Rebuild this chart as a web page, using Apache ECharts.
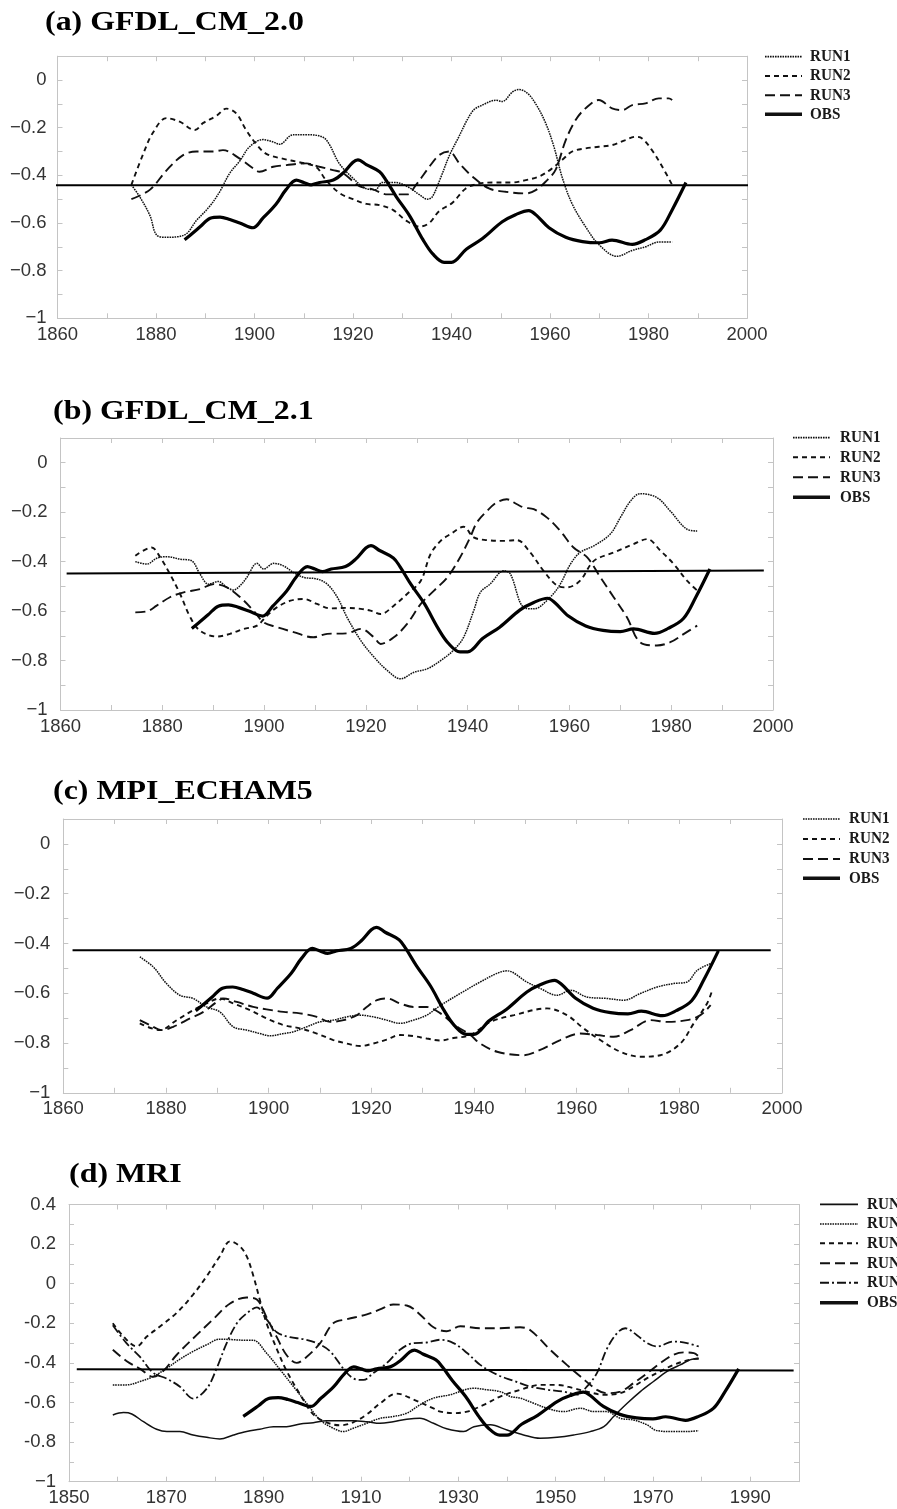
<!DOCTYPE html>
<html><head><meta charset="utf-8">
<script src="https://cdn.jsdelivr.net/npm/echarts@6/dist/echarts.min.js"></script>
<style>html,body{margin:0;padding:0;background:#fff}#c{width:897px;height:1509px}</style>
</head><body><div id="c"></div>
<script>
// ---------------- DATA ----------------
const panelTitles = ['(a) GFDL_CM_2.0', '(b) GFDL_CM_2.1', '(c) MPI_ECHAM5', '(d) MRI'];
const legendABC = ['RUN1', 'RUN2', 'RUN3', 'OBS'];
const legendD = ['RUN1', 'RUN2', 'RUN3', 'RUN4', 'RUN5', 'OBS'];

const xLabelValsABC = [1860, 1880, 1900, 1920, 1940, 1960, 1980, 2000];
const xLabelValsD = [1850, 1870, 1890, 1910, 1930, 1950, 1970, 1990];
const yLabelValsABC = [-1, -0.8, -0.6, -0.4, -0.2, 0];
const yLabelTxtABC = ['\u22121', '\u22120.8', '\u22120.6', '\u22120.4', '\u22120.2', '0'];
const yLabelValsD = [-1, -0.8, -0.6, -0.4, -0.2, 0, 0.2, 0.4];
const yLabelTxtD = ['\u22121', '-0.8', '-0.6', '-0.4', '-0.2', '0', '0.2', '0.4'];

// observed index (same in every panel)
const obs = [[1885.8,-0.67],[1887,-0.65],[1889,-0.615],[1891,-0.58],[1893,-0.575],[1895,-0.585],[1897,-0.60],[1899.7,-0.62],[1901.7,-0.58],[1904.4,-0.52],[1906.4,-0.46],[1908.5,-0.42],[1910,-0.43],[1911.5,-0.44],[1913.2,-0.43],[1916,-0.42],[1918,-0.39],[1920,-0.345],[1921,-0.335],[1922.7,-0.355],[1925.4,-0.385],[1926.7,-0.42],[1928.8,-0.49],[1931.5,-0.57],[1934.2,-0.67],[1936.2,-0.73],[1938.5,-0.765],[1940,-0.765],[1943,-0.71],[1946.3,-0.665],[1950.3,-0.595],[1953,-0.565],[1955.7,-0.548],[1957.1,-0.565],[1959.8,-0.62],[1963.2,-0.66],[1966.6,-0.678],[1970,-0.683],[1972.6,-0.672],[1976.7,-0.69],[1979.4,-0.67],[1982.4,-0.63],[1984.8,-0.545],[1987.6,-0.43]];

// (a) GFDL_CM_2.0
const a_run1 = [[1875,-0.44],[1876.7,-0.49],[1878.8,-0.57],[1880.1,-0.65],[1882.1,-0.66],[1885.8,-0.65],[1888.2,-0.59],[1890.9,-0.53],[1892.9,-0.47],[1895,-0.39],[1897,-0.34],[1899,-0.28],[1901.7,-0.25],[1903.8,-0.26],[1905.1,-0.27],[1907.8,-0.23],[1911.2,-0.23],[1913.9,-0.24],[1915.2,-0.27],[1917.2,-0.35],[1919.9,-0.41],[1922.6,-0.455],[1924.6,-0.46],[1925.9,-0.43],[1928.6,-0.43],[1931.3,-0.45],[1933.4,-0.48],[1935.1,-0.50],[1936.1,-0.49],[1937.8,-0.41],[1939.5,-0.32],[1941.2,-0.25],[1944.3,-0.13],[1946.3,-0.105],[1949,-0.085],[1950.3,-0.09],[1952.4,-0.05],[1953.7,-0.04],[1955.4,-0.055],[1957.1,-0.10],[1959.1,-0.18],[1960.8,-0.28],[1962.5,-0.41],[1964.5,-0.52],[1967.2,-0.615],[1969.9,-0.69],[1973.6,-0.74],[1976.7,-0.715],[1979.4,-0.70],[1982.1,-0.68],[1984.8,-0.68]];
const a_run2 = [[1875,-0.44],[1877.4,-0.31],[1879.4,-0.22],[1882.1,-0.16],[1884.8,-0.175],[1887.9,-0.21],[1889.6,-0.18],[1892.3,-0.15],[1894.3,-0.12],[1896.3,-0.14],[1898.3,-0.21],[1900.4,-0.27],[1902.4,-0.31],[1905.7,-0.33],[1909.1,-0.345],[1912.5,-0.365],[1914.5,-0.42],[1917.3,-0.475],[1920,-0.50],[1922.7,-0.52],[1925.4,-0.525],[1928.1,-0.545],[1930.8,-0.59],[1933.5,-0.615],[1935.5,-0.60],[1937.5,-0.55],[1940.2,-0.515],[1942.9,-0.455],[1945.6,-0.435],[1948.3,-0.43],[1952.4,-0.43],[1955.1,-0.42],[1957.8,-0.405],[1960.5,-0.37],[1962.5,-0.335],[1964.5,-0.30],[1967.2,-0.287],[1969.9,-0.28],[1972.6,-0.273],[1975.3,-0.252],[1977.4,-0.238],[1978.7,-0.245],[1980.7,-0.294],[1982.8,-0.364],[1984.8,-0.44]];
const a_run3 = [[1875,-0.50],[1878.8,-0.46],[1882.1,-0.38],[1885.5,-0.315],[1888.2,-0.30],[1891.6,-0.30],[1893.6,-0.294],[1897,-0.33],[1899.7,-0.37],[1901,-0.385],[1903.8,-0.364],[1906.5,-0.357],[1910.5,-0.35],[1913.2,-0.364],[1915.9,-0.378],[1917.9,-0.39],[1921.3,-0.445],[1924,-0.459],[1927,-0.48],[1931,-0.48],[1932.8,-0.44],[1935.5,-0.364],[1937.5,-0.315],[1939.5,-0.30],[1941.6,-0.35],[1944.3,-0.406],[1947.6,-0.455],[1951,-0.469],[1955.1,-0.476],[1957.1,-0.462],[1959.1,-0.427],[1961.1,-0.378],[1963.2,-0.252],[1965.2,-0.168],[1967.2,-0.119],[1969.9,-0.084],[1972.6,-0.119],[1974.7,-0.126],[1976.7,-0.105],[1979.4,-0.098],[1982.1,-0.077],[1984.1,-0.077],[1984.8,-0.084]];
const a_ref = [[1859.1,-0.442],[2000.2,-0.442]];

// (b) GFDL_CM_2.1
const b_run1 = [[1874.7,-0.40],[1877,-0.41],[1878.9,-0.386],[1880.9,-0.38],[1883.5,-0.39],[1885.8,-0.397],[1887.4,-0.45],[1889.1,-0.491],[1891,-0.48],[1892.7,-0.504],[1894,-0.515],[1895.3,-0.497],[1896.6,-0.464],[1898.6,-0.407],[1899.9,-0.43],[1901.9,-0.407],[1903.8,-0.417],[1905.8,-0.444],[1907.8,-0.464],[1910.4,-0.47],[1912.4,-0.491],[1914.4,-0.544],[1916.3,-0.625],[1919,-0.719],[1921.6,-0.786],[1924.2,-0.84],[1926.8,-0.874],[1929.5,-0.847],[1932.1,-0.833],[1934.7,-0.80],[1937.2,-0.759],[1939.2,-0.706],[1941.2,-0.598],[1942.5,-0.524],[1944.4,-0.491],[1947.1,-0.437],[1948.4,-0.45],[1951,-0.585],[1953,-0.591],[1956.2,-0.544],[1958.2,-0.491],[1960.2,-0.41],[1962.1,-0.363],[1964.8,-0.336],[1968,-0.289],[1970,-0.222],[1972,-0.155],[1973.9,-0.125],[1977.2,-0.141],[1979.8,-0.195],[1983.1,-0.269],[1985.1,-0.276]];
const b_run2 = [[1874.7,-0.376],[1877.9,-0.343],[1879.6,-0.383],[1881.5,-0.45],[1883.5,-0.531],[1885.5,-0.625],[1887.4,-0.679],[1890.7,-0.703],[1893.3,-0.692],[1896,-0.672],[1898.6,-0.659],[1900.6,-0.618],[1902.5,-0.585],[1905.2,-0.558],[1907.8,-0.551],[1910.4,-0.571],[1913,-0.589],[1916.3,-0.587],[1919,-0.591],[1920.9,-0.598],[1922.9,-0.612],[1925.5,-0.578],[1928.1,-0.531],[1930.8,-0.477],[1932.7,-0.37],[1934.7,-0.316],[1936.6,-0.289],[1939.2,-0.259],[1941.2,-0.302],[1943.8,-0.313],[1947.1,-0.316],[1949.7,-0.313],[1952.3,-0.363],[1954.9,-0.437],[1957.6,-0.497],[1959.5,-0.504],[1962.1,-0.477],[1964.8,-0.397],[1968.7,-0.363],[1972.6,-0.329],[1975.3,-0.309],[1977.9,-0.356],[1980.5,-0.41],[1983.1,-0.477],[1985.1,-0.517]];
const b_run3 = [[1874.7,-0.605],[1877,-0.601],[1878.9,-0.578],[1881.5,-0.544],[1884.2,-0.524],[1887.4,-0.511],[1890.1,-0.491],[1892.7,-0.504],[1895.3,-0.544],[1897.9,-0.598],[1899.9,-0.645],[1902.5,-0.665],[1905.8,-0.685],[1909.7,-0.706],[1912.4,-0.692],[1916.3,-0.69],[1919,-0.672],[1921.6,-0.706],[1922.9,-0.733],[1925.5,-0.706],[1928.1,-0.652],[1930.8,-0.571],[1933.4,-0.517],[1936,-0.464],[1938.5,-0.383],[1940.5,-0.302],[1941.8,-0.242],[1943.8,-0.195],[1945.7,-0.161],[1947.7,-0.148],[1949.7,-0.168],[1951,-0.181],[1953,-0.188],[1955.6,-0.222],[1958.2,-0.276],[1960.8,-0.343],[1963.5,-0.383],[1966.1,-0.464],[1968.7,-0.544],[1971.3,-0.625],[1973.9,-0.726],[1977.2,-0.739],[1979.8,-0.726],[1982.5,-0.692],[1985.1,-0.659]];
const b_ref = [[1861.2,-0.448],[1998.2,-0.436]];

// (c) MPI_ECHAM5
const c_run1 = [[1874.9,-0.454],[1877.5,-0.494],[1880.1,-0.561],[1882.7,-0.608],[1885.3,-0.621],[1887.9,-0.655],[1890.5,-0.675],[1893.1,-0.735],[1895.7,-0.748],[1898.3,-0.762],[1900.3,-0.771],[1902.9,-0.762],[1904.8,-0.755],[1907.4,-0.735],[1910,-0.715],[1912.6,-0.708],[1915.2,-0.695],[1917.8,-0.688],[1920.4,-0.695],[1923,-0.708],[1925.6,-0.721],[1928.2,-0.708],[1930.8,-0.688],[1933.4,-0.65],[1937.3,-0.601],[1941.2,-0.555],[1944.5,-0.52],[1946.4,-0.51],[1950.3,-0.555],[1952.9,-0.581],[1956.2,-0.608],[1958.8,-0.588],[1962,-0.615],[1965.9,-0.621],[1969.2,-0.628],[1972.4,-0.601],[1975.7,-0.575],[1978.9,-0.561],[1981.5,-0.555],[1983.5,-0.508],[1986.1,-0.481]];
const c_run2 = [[1874.9,-0.721],[1878.8,-0.748],[1882.1,-0.708],[1885.3,-0.668],[1887.9,-0.641],[1890.5,-0.621],[1893.1,-0.641],[1896.4,-0.668],[1899.6,-0.701],[1902.9,-0.728],[1906.1,-0.741],[1909.4,-0.762],[1912.6,-0.788],[1915.2,-0.802],[1917.8,-0.812],[1920.4,-0.802],[1923,-0.786],[1925.6,-0.768],[1928.2,-0.772],[1930.8,-0.782],[1933.4,-0.79],[1936,-0.78],[1939.3,-0.768],[1943.2,-0.715],[1947.8,-0.688],[1954.2,-0.661],[1958.1,-0.688],[1961.4,-0.742],[1964.6,-0.788],[1968.5,-0.835],[1972.4,-0.855],[1976.3,-0.849],[1980.2,-0.802],[1982.8,-0.721],[1985.4,-0.641],[1986.4,-0.588]];
const c_run3 = [[1874.9,-0.708],[1876.9,-0.728],[1879.2,-0.748],[1881.4,-0.735],[1884.7,-0.701],[1887.3,-0.675],[1889.9,-0.635],[1891.2,-0.621],[1893.8,-0.635],[1897,-0.655],[1899.6,-0.665],[1902.9,-0.675],[1906.1,-0.681],[1909.4,-0.695],[1912,-0.715],[1914.6,-0.708],[1917.2,-0.688],[1919.1,-0.655],[1921.1,-0.628],[1923,-0.621],[1925.6,-0.641],[1928.2,-0.655],[1930.8,-0.655],[1933.4,-0.68],[1936.3,-0.728],[1939.3,-0.768],[1941.2,-0.802],[1944.5,-0.835],[1949.7,-0.849],[1952.9,-0.828],[1956.8,-0.788],[1960.7,-0.762],[1964,-0.768],[1967.2,-0.775],[1970.5,-0.748],[1974.4,-0.708],[1977.6,-0.715],[1981.5,-0.708],[1984.1,-0.688],[1986.1,-0.648]];
const c_ref = [[1861.8,-0.427],[1997.8,-0.427]];

// (d) MRI
const d_run1 = [[1859,-0.663],[1861.2,-0.651],[1862.9,-0.658],[1865.3,-0.697],[1868,-0.735],[1870.1,-0.747],[1872.8,-0.747],[1875.5,-0.764],[1878.3,-0.776],[1881,-0.784],[1883.8,-0.764],[1886.5,-0.747],[1889.2,-0.735],[1892,-0.722],[1894.7,-0.722],[1897.5,-0.708],[1900.2,-0.702],[1902.9,-0.692],[1905.7,-0.692],[1908.4,-0.692],[1911.2,-0.697],[1913.9,-0.705],[1916.6,-0.697],[1919.4,-0.685],[1922.1,-0.68],[1924.9,-0.705],[1927.6,-0.733],[1931.1,-0.747],[1933.2,-0.722],[1936.6,-0.713],[1940,-0.739],[1943.4,-0.764],[1946.8,-0.781],[1950.3,-0.776],[1953.7,-0.764],[1957.1,-0.747],[1959.9,-0.722],[1961.9,-0.671],[1964.7,-0.604],[1967.4,-0.545],[1970.1,-0.494],[1972.9,-0.443],[1975.6,-0.41],[1978.4,-0.38],[1979.4,-0.38]];
const d_run2 = [[1859,-0.511],[1861.8,-0.511],[1864.6,-0.494],[1867.3,-0.469],[1870.1,-0.427],[1872.8,-0.381],[1875.5,-0.342],[1878.3,-0.308],[1881,-0.28],[1883.8,-0.283],[1886.5,-0.286],[1887.9,-0.286],[1890.6,-0.351],[1893.4,-0.435],[1896.1,-0.519],[1898.8,-0.603],[1901.6,-0.688],[1904.3,-0.73],[1906.4,-0.747],[1908.4,-0.73],[1911.2,-0.705],[1913.9,-0.68],[1916.6,-0.671],[1919.4,-0.654],[1922.1,-0.612],[1924.9,-0.578],[1928.3,-0.561],[1933.2,-0.528],[1935.9,-0.536],[1938.6,-0.545],[1940.7,-0.57],[1942.7,-0.578],[1945.5,-0.604],[1948.2,-0.629],[1951.6,-0.646],[1955.1,-0.629],[1957.8,-0.646],[1960.5,-0.646],[1963.3,-0.68],[1966,-0.688],[1968.8,-0.713],[1970.8,-0.742],[1974.2,-0.747],[1977,-0.747],[1979.4,-0.742]];
const d_run3 = [[1859,-0.20],[1861.2,-0.267],[1863.9,-0.317],[1866,-0.267],[1868.7,-0.216],[1872.1,-0.148],[1875.5,-0.055],[1878.3,0.038],[1881,0.139],[1883.1,0.214],[1885.1,0.189],[1886.5,0.139],[1887.9,0.038],[1889.2,-0.08],[1890.6,-0.20],[1892.7,-0.33],[1894.7,-0.44],[1897.5,-0.56],[1900.2,-0.66],[1902.9,-0.70],[1905.7,-0.715],[1908.4,-0.70],[1911.2,-0.66],[1913.9,-0.605],[1917.3,-0.555],[1920.8,-0.585],[1924.9,-0.63],[1926.3,-0.646],[1929,-0.654],[1931.8,-0.646],[1935.2,-0.612],[1938.6,-0.57],[1942.7,-0.536],[1946.8,-0.511],[1950.3,-0.511],[1953.7,-0.528],[1956.4,-0.545],[1959.9,-0.561],[1963.3,-0.553],[1966,-0.519],[1968.8,-0.477],[1971.5,-0.443],[1974.2,-0.41],[1977,-0.388],[1979.4,-0.376]];
const d_run4 = [[1859,-0.334],[1861.8,-0.39],[1864.6,-0.43],[1867.3,-0.47],[1869.4,-0.44],[1872.1,-0.36],[1876.2,-0.26],[1879.6,-0.18],[1883.1,-0.10],[1886.5,-0.07],[1888.6,-0.08],[1890.6,-0.17],[1892.7,-0.27],[1894.7,-0.36],[1896.8,-0.40],[1898.8,-0.37],[1901.6,-0.30],[1904.3,-0.20],[1907,-0.18],[1911.2,-0.155],[1913.9,-0.13],[1916.6,-0.105],[1919.4,-0.11],[1922.1,-0.155],[1924.9,-0.22],[1927.6,-0.24],[1930.4,-0.215],[1934.5,-0.225],[1938.6,-0.225],[1942.7,-0.22],[1944.8,-0.235],[1948.9,-0.334],[1952.3,-0.41],[1955.1,-0.469],[1958.5,-0.536],[1960.5,-0.553],[1963.3,-0.545],[1966,-0.502],[1968.8,-0.452],[1971.5,-0.401],[1974.2,-0.359],[1976.3,-0.347],[1978.4,-0.351],[1979.4,-0.367]];
const d_run5 = [[1859,-0.21],[1861.8,-0.30],[1864.6,-0.37],[1867.3,-0.45],[1870.1,-0.48],[1872.8,-0.52],[1875.5,-0.58],[1878.3,-0.53],[1880.3,-0.43],[1882.4,-0.30],[1884.5,-0.20],[1886.5,-0.15],[1888.6,-0.12],[1890.6,-0.18],[1892.7,-0.245],[1895.4,-0.27],[1898.1,-0.28],[1900.9,-0.30],[1903.6,-0.34],[1906.4,-0.43],[1908.4,-0.478],[1910.5,-0.486],[1912.5,-0.452],[1915.3,-0.401],[1918,-0.334],[1920.8,-0.30],[1923.5,-0.297],[1926.3,-0.283],[1929,-0.30],[1931.8,-0.35],[1934.5,-0.41],[1938,-0.46],[1941.3,-0.49],[1944.8,-0.52],[1948.2,-0.535],[1951.6,-0.545],[1954.4,-0.56],[1956.4,-0.52],[1958.5,-0.45],[1960.5,-0.33],[1962.6,-0.25],[1964.3,-0.225],[1966.7,-0.26],[1968.8,-0.30],[1970.8,-0.317],[1974.2,-0.292],[1977,-0.30],[1979.4,-0.317]];
const d_ref = [[1851.6,-0.432],[1998.9,-0.439]];

// ---------------- STYLE / LAYOUT ----------------
const ink = '#111';
const frameColor = '#c4c4c4';
const sty = {
  dot:   {type: [1.6, 0.9], width: 1.5},
  short: {type: [5, 4], width: 1.9},
  long:  {type: [10, 5], width: 1.9},
  dashdot: {type: [9, 3, 2, 3], width: 1.8},
  solid: {type: 'solid', width: 1.5},
  obs:   {type: 'solid', width: 3.2}
};
const grids = [
  {left: 57.5, top: 56.2, width: 689.5, height: 262.1},
  {left: 60.5, top: 438, width: 712.5, height: 272},
  {left: 63.3, top: 819, width: 718.7, height: 273.8},
  {left: 69, top: 1204.5, width: 730, height: 277.2}
];
const panelCfg = [
  {xmin: 1860, xmax: 2000, ymin: -1, ymax: 0.1, xl: xLabelValsABC, yv: yLabelValsABC, yt: yLabelTxtABC, ymargin: 11,
   series: [[a_run1, 'dot'], [a_run2, 'short'], [a_run3, 'long']], ref: a_ref},
  {xmin: 1860, xmax: 2000, ymin: -1, ymax: 0.1, xl: xLabelValsABC, yv: yLabelValsABC, yt: yLabelTxtABC, ymargin: 13,
   series: [[b_run1, 'dot'], [b_run2, 'short'], [b_run3, 'long']], ref: b_ref},
  {xmin: 1860, xmax: 2000, ymin: -1, ymax: 0.1, xl: xLabelValsABC, yv: yLabelValsABC, yt: yLabelTxtABC, ymargin: 13,
   series: [[c_run1, 'dot'], [c_run2, 'short'], [c_run3, 'long']], ref: c_ref},
  {xmin: 1850, xmax: 2000, ymin: -1, ymax: 0.4, xl: xLabelValsD, yv: yLabelValsD, yt: yLabelTxtD, ymargin: 13,
   series: [[d_run1, 'solid'], [d_run2, 'dot'], [d_run3, 'short'], [d_run4, 'long'], [d_run5, 'dashdot']], ref: d_ref}
];

function pickFmt(vals, txt) {
  return function (v) {
    for (let k = 0; k < vals.length; k++) if (Math.abs(vals[k] - v) < 1e-6) return txt ? txt[k] : String(vals[k]);
    return '';
  };
}
const labelFont = '"Liberation Sans", Arial, sans-serif';
const xAxes = [], yAxes = [], series = [];
panelCfg.forEach(function (p, g) {
  const base = {
    type: 'value', gridIndex: g,
    axisLine: {show: true, onZero: false, lineStyle: {color: frameColor, width: 1}},
    axisTick: {show: true, inside: true, length: 5, lineStyle: {color: frameColor}},
    splitLine: {show: false}
  };
  xAxes.push(Object.assign({}, base, {min: p.xmin, max: p.xmax, interval: 10, position: 'bottom',
    axisLabel: {show: true, formatter: pickFmt(p.xl), margin: 7, color: '#333', fontSize: 18.5, fontFamily: labelFont}}));
  xAxes.push(Object.assign({}, base, {min: p.xmin, max: p.xmax, interval: 10, position: 'top', axisLabel: {show: false}}));
  yAxes.push(Object.assign({}, base, {min: p.ymin, max: p.ymax, interval: 0.1, position: 'left',
    axisLabel: {show: true, formatter: pickFmt(p.yv, p.yt), margin: p.ymargin, color: '#333', fontSize: 18.5, fontFamily: labelFont}}));
  yAxes.push(Object.assign({}, base, {min: p.ymin, max: p.ymax, interval: 0.1, position: 'right', axisLabel: {show: false}}));

  const xi = g * 2, yi = g * 2;
  p.series.forEach(function (s) {
    const st = sty[s[1]];
    series.push({type: 'line', xAxisIndex: xi, yAxisIndex: yi, data: s[0], showSymbol: false, symbol: 'none',
      smooth: 0.35, silent: true, z: 3,
      lineStyle: {color: ink, width: st.width, type: st.type, cap: 'butt'}});
  });
  series.push({type: 'line', xAxisIndex: xi, yAxisIndex: yi, data: obs, showSymbol: false, symbol: 'none',
    smooth: 0.35, silent: true, z: 5, lineStyle: {color: '#000', width: sty.obs.width}});
  series.push({type: 'line', xAxisIndex: xi, yAxisIndex: yi, data: p.ref, showSymbol: false, symbol: 'none',
    clip: false, silent: true, z: 4, lineStyle: {color: '#000', width: 2}});
});

// titles and legends (decoration)
const graphics = [];
const titlePos = [[45, 22.5], [53, 412], [53, 792], [69, 1175]];
panelTitles.forEach(function (t, i) {
  graphics.push({type: 'text', x: titlePos[i][0], y: titlePos[i][1], scaleX: 1.14, silent: true,
    style: {text: t, fill: '#000', fontFamily: '"Liberation Serif", "Times New Roman", serif', fontWeight: 'bold', fontSize: 28,
      align: 'left', verticalAlign: 'middle', textAlign: 'left', textVerticalAlign: 'middle'}});
});
const legendPos = [
  {x1: 765, x2: 802, tx: 810, rows: [56.7, 76, 95.3, 114.3], names: legendABC, st: ['dot', 'short', 'long', 'obs']},
  {x1: 793, x2: 830, tx: 840, rows: [437.7, 457.3, 477.3, 497.3], names: legendABC, st: ['dot', 'short', 'long', 'obs']},
  {x1: 803, x2: 840, tx: 849, rows: [819, 839, 859, 878.3], names: legendABC, st: ['dot', 'short', 'long', 'obs']},
  {x1: 820, x2: 858, tx: 867, rows: [1204.3, 1224, 1243.3, 1263.3, 1282.7, 1302.7], names: legendD, st: ['solid', 'dot', 'short', 'long', 'dashdot', 'obs']}
];
legendPos.forEach(function (L) {
  L.names.forEach(function (n, k) {
    const st = sty[L.st[k]];
    graphics.push({type: 'line', silent: true, shape: {x1: L.x1, y1: L.rows[k], x2: L.x2, y2: L.rows[k]},
      style: {stroke: ink, lineWidth: L.st[k] === 'obs' ? 3.4 : st.width + 0.2, lineDash: Array.isArray(st.type) ? st.type : null}});
    graphics.push({type: 'text', x: L.tx, y: L.rows[k], scaleX: 0.92, silent: true,
      style: {text: n, fill: '#1a1a1a', fontFamily: '"Liberation Serif", "Times New Roman", serif', fontWeight: 'bold', fontSize: 16.5,
        align: 'left', verticalAlign: 'middle', textAlign: 'left', textVerticalAlign: 'middle'}});
  });
});

const chart = echarts.init(document.getElementById('c'), null, {renderer: 'canvas'});
chart.setOption({
  backgroundColor: '#fff',
  animation: false,
  grid: grids,
  xAxis: xAxes,
  yAxis: yAxes,
  series: series,
  graphic: graphics
});
</script></body></html>
